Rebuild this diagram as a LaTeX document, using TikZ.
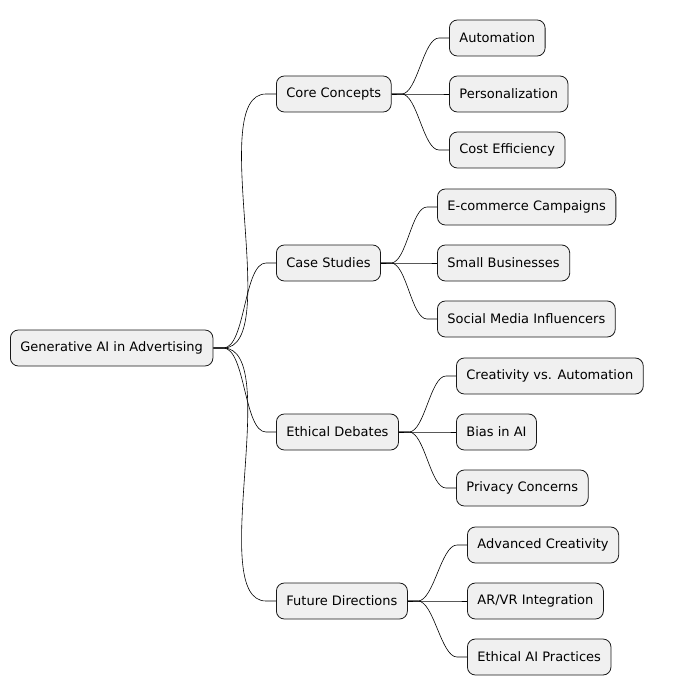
\documentclass[tikz,border=0pt]{standalone}
\usepackage{fontspec}
\setmainfont{DejaVu Sans}
\usetikzlibrary{calc}
\begin{document}
\begin{tikzpicture}[x=1pt,y=-1pt,
  box/.style={draw=black!90,fill=black!6,rounded corners=8pt,anchor=west,minimum height=36pt,inner xsep=10pt,font=\fontsize{13}{15}\selectfont,line width=0.8pt},
  link/.style={line width=0.6pt}]
\useasboundingbox (0,0) rectangle (675,695);
\node[box] (r) at (10,348) {Generative AI in Advertising};
\node[box] (c1) at (276,94) {Core Concepts};
\node[box] (c2) at (276,263) {Case Studies};
\node[box] (c3) at (276,432) {Ethical Debates};
\node[box] (c4) at (276,601) {Future Directions};
\node[box] (a1) at (449,38) {Automation};
\node[box] (a2) at (449,94) {Personalization};
\node[box] (a3) at (449,150) {Cost Efficiency};
\node[box] (b1) at (437,207) {E-commerce Campaigns};
\node[box] (b2) at (437,263) {Small Businesses};
\node[box] (b3) at (437,319) {Social Media Influencers};
\node[box] (d1) at (456,376) {Creativity vs. Automation};
\node[box] (d2) at (456,432) {Bias in AI};
\node[box] (d3) at (456,488) {Privacy Concerns};
\node[box] (e1) at (467,545) {Advanced Creativity};
\node[box] (e2) at (467,601) {AR/VR Integration};
\node[box] (e3) at (467,657) {Ethical AI Practices};
\foreach \p/\c in {r/c1,r/c2,r/c3,r/c4,c1/a1,c1/a2,c1/a3,c2/b1,c2/b2,c2/b3,c3/d1,c3/d2,c3/d3,c4/e1,c4/e2,c4/e3}
  \draw[link] (\p.east) -- ++(10,0) to[out=0,in=180,looseness=0.6] ($(\c.west)+(-10,0)$) -- (\c.west);
\end{tikzpicture}
\end{document}
